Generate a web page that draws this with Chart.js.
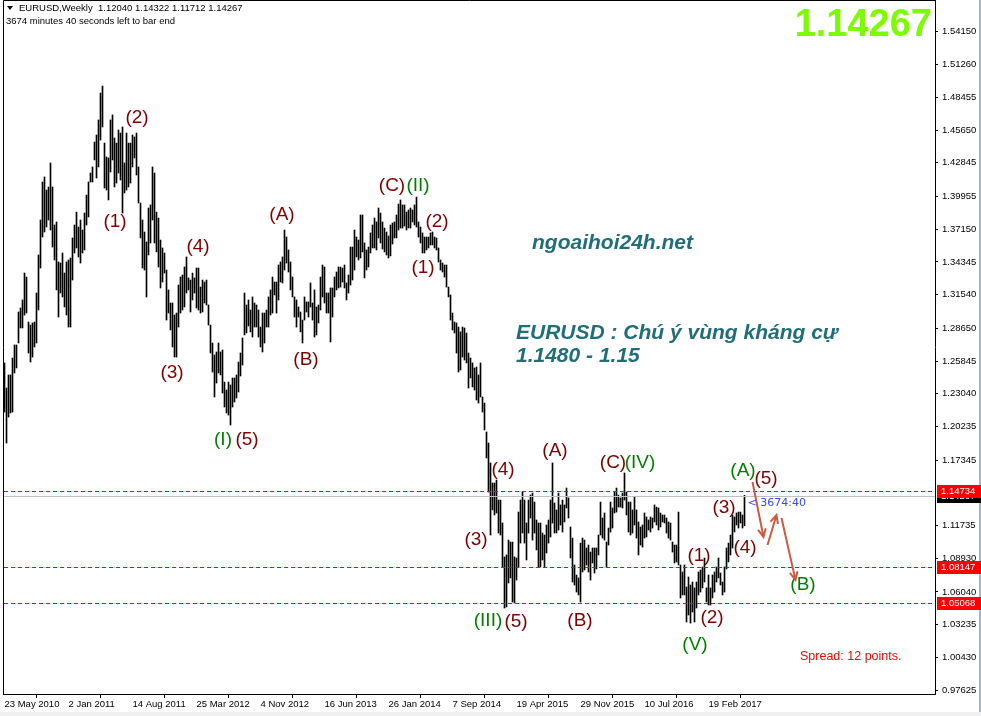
<!DOCTYPE html>
<html>
<head>
<meta charset="utf-8">
<title>EURUSD Weekly</title>
<script src="https://cdn.jsdelivr.net/npm/chart.js@4.4.1/dist/chart.umd.min.js"></script>
<style>
    html, body { margin: 0; padding: 0; background: #fff; overflow: hidden; }
    #wrap { width: 981px; height: 716px; }
</style>
</head>
<body>
<div id="wrap"><canvas id="eurusdChart" width="981" height="716"></canvas></div>
<script>
// weekly bars, first one = week of 23 May 2010
const weekHigh = [
    1.2568, 1.2353, 1.2465, 1.2465, 1.2610, 1.2722, 1.2722, 1.3005, 1.3039, 1.3108,
    1.3339, 1.3305, 1.2919, 1.2893, 1.2911, 1.2919, 1.3168, 1.3494, 1.3794, 1.4120,
    1.4163, 1.4051, 1.4077, 1.4283, 1.4077, 1.3751, 1.3777, 1.3434, 1.3425, 1.3511,
    1.3339, 1.3434, 1.3451, 1.3468, 1.3640, 1.3751, 1.3862, 1.3734, 1.3794, 1.3708,
    1.3854, 1.4008, 1.4120, 1.4197, 1.4249, 1.4463, 1.4523, 1.4652, 1.4883, 1.4943,
    1.4454, 1.4334, 1.4326, 1.4652, 1.4695, 1.4497, 1.4454, 1.4566, 1.4540, 1.4592,
    1.4283, 1.4540, 1.4454, 1.4454, 1.4523, 1.4506, 1.4540, 1.4249, 1.3940, 1.3794,
    1.3691, 1.3605, 1.3897, 1.3923, 1.4249, 1.4197, 1.3862, 1.3811, 1.3622, 1.3554,
    1.3511, 1.3365, 1.3194, 1.3082, 1.3082, 1.2979, 1.2996, 1.3236, 1.3305, 1.3322,
    1.3391, 1.3477, 1.3297, 1.3279, 1.3339, 1.3297, 1.3382, 1.3382, 1.3219, 1.3279,
    1.3262, 1.3279, 1.3065, 1.2893, 1.2739, 1.2636, 1.2662, 1.2739, 1.2662, 1.2679,
    1.2404, 1.2336, 1.2404, 1.2379, 1.2439, 1.2439, 1.2465, 1.2576, 1.2653, 1.2782,
    1.3168, 1.3065, 1.3108, 1.3022, 1.3134, 1.3082, 1.3065, 1.3022, 1.2876, 1.2996,
    1.2996, 1.3022, 1.3134, 1.3194, 1.3305, 1.3262, 1.3262, 1.3408, 1.3434, 1.3477,
    1.3708, 1.3648, 1.3537, 1.3434, 1.3305, 1.3134, 1.3108, 1.3048, 1.3005, 1.2936,
    1.3134, 1.3091, 1.3091, 1.3254, 1.3082, 1.3194, 1.3048, 1.3065, 1.3305, 1.3408,
    1.3391, 1.3168, 1.3168, 1.3211, 1.3211, 1.3305, 1.3348, 1.3391, 1.3391, 1.3382,
    1.3408, 1.3254, 1.3322, 1.3562, 1.3562, 1.3708, 1.3648, 1.3622, 1.3837, 1.3837,
    1.3597, 1.3537, 1.3562, 1.3683, 1.3751, 1.3811, 1.3777, 1.3897, 1.3854, 1.3777,
    1.3725, 1.3691, 1.3657, 1.3751, 1.3768, 1.3777, 1.3837, 1.3931, 1.3966, 1.3923,
    1.3923, 1.3862, 1.3880, 1.3897, 1.3880, 1.3923, 1.3991, 1.3777, 1.3734, 1.3683,
    1.3648, 1.3648, 1.3648, 1.3683, 1.3691, 1.3648, 1.3640, 1.3554, 1.3451, 1.3425,
    1.3408, 1.3408, 1.3219, 1.3151, 1.2996, 1.2919, 1.2911, 1.2876, 1.2834, 1.2876,
    1.2868, 1.2825, 1.2653, 1.2610, 1.2568, 1.2525, 1.2533, 1.2465, 1.2568, 1.2276,
    1.2224, 1.1976, 1.1881, 1.1710, 1.1538, 1.1538, 1.1564, 1.1392, 1.1392, 1.1195,
    1.0904, 1.0921, 1.1049, 1.1032, 1.1032, 1.0904, 1.0895, 1.1289, 1.1392, 1.1461,
    1.1392, 1.1195, 1.1392, 1.1435, 1.1452, 1.1375, 1.1221, 1.1195, 1.1195, 1.1109,
    1.1092, 1.1178, 1.1221, 1.1392, 1.1710, 1.1367, 1.1307, 1.1452, 1.1350, 1.1392,
    1.1350, 1.1495, 1.1410, 1.1161, 1.1066, 1.0835, 1.0749, 1.0724, 1.1023, 1.1066,
    1.1049, 1.0981, 1.1006, 1.0946, 1.0981, 1.0981, 1.0981, 1.1092, 1.1375, 1.1238,
    1.1281, 1.1032, 1.1152, 1.1375, 1.1324, 1.1461, 1.1495, 1.1435, 1.1410, 1.1452,
    1.1624, 1.1461, 1.1375, 1.1375, 1.1307, 1.1418, 1.1307, 1.1204, 1.1161, 1.1178,
    1.1281, 1.1247, 1.1221, 1.1247, 1.1238, 1.1350, 1.1332, 1.1324, 1.1281, 1.1264,
    1.1264, 1.1238, 1.1204, 1.1195, 1.1032, 1.1006, 1.1006, 1.1289, 1.0835, 1.0775,
    1.0835, 1.0646, 1.0732, 1.0663, 1.0689, 1.0638, 1.0689, 1.0775, 1.0792, 1.0818,
    1.0895, 1.0638, 1.0749, 1.0638, 1.0749, 1.0775, 1.0818, 1.0895, 1.0766, 1.0689,
    1.0818, 1.0981, 1.1023, 1.1092, 1.1264, 1.1247, 1.1281, 1.1289, 1.1289, 1.1264, 1.14322
];
const weekLow = [
    1.2147, 1.1881, 1.2104, 1.2139, 1.2147, 1.2482, 1.2525, 1.2739, 1.2868, 1.2868,
    1.2979, 1.2996, 1.2653, 1.2576, 1.2619, 1.2705, 1.2739, 1.3022, 1.3382, 1.3648,
    1.3691, 1.3734, 1.3794, 1.3708, 1.3562, 1.3451, 1.3194, 1.2962, 1.3168, 1.3134,
    1.3048, 1.2979, 1.2876, 1.2876, 1.3279, 1.3511, 1.3554, 1.3477, 1.3425, 1.3511,
    1.3537, 1.3751, 1.3820, 1.4120, 1.4120, 1.4309, 1.4154, 1.4249, 1.4480, 1.4592,
    1.4068, 1.4051, 1.3966, 1.4206, 1.4309, 1.4077, 1.4111, 1.4197, 1.4137, 1.3854,
    1.4026, 1.4051, 1.4077, 1.4111, 1.4249, 1.4326, 1.4180, 1.3940, 1.3640, 1.3382,
    1.3365, 1.3134, 1.3494, 1.3597, 1.3794, 1.3597, 1.3520, 1.3391, 1.3211, 1.3262,
    1.3339, 1.2936, 1.2996, 1.2851, 1.2705, 1.2619, 1.2619, 1.2876, 1.2996, 1.3022,
    1.3048, 1.3168, 1.3194, 1.3005, 1.3108, 1.3168, 1.3039, 1.3022, 1.2996, 1.3005,
    1.3082, 1.3065, 1.2893, 1.2653, 1.2490, 1.2276, 1.2396, 1.2482, 1.2465, 1.2310,
    1.2190, 1.2139, 1.2121, 1.2036, 1.2190, 1.2233, 1.2267, 1.2319, 1.2456, 1.2550,
    1.2808, 1.2825, 1.2885, 1.2834, 1.2790, 1.2876, 1.2876, 1.2790, 1.2705, 1.2662,
    1.2739, 1.2876, 1.2876, 1.2979, 1.2996, 1.3151, 1.2996, 1.3108, 1.3262, 1.3254,
    1.3365, 1.3425, 1.3348, 1.3194, 1.3134, 1.2962, 1.2876, 1.2962, 1.2834, 1.2739,
    1.2936, 1.3005, 1.2962, 1.3048, 1.2936, 1.2790, 1.2808, 1.2911, 1.3022, 1.3134,
    1.3082, 1.2996, 1.2996, 1.2748, 1.2962, 1.3134, 1.3194, 1.3211, 1.3219, 1.3262,
    1.3211, 1.3108, 1.3168, 1.3236, 1.3279, 1.3365, 1.3477, 1.3451, 1.3468, 1.3520,
    1.3297, 1.3365, 1.3391, 1.3511, 1.3554, 1.3554, 1.3537, 1.3640, 1.3597, 1.3545,
    1.3520, 1.3494, 1.3468, 1.3486, 1.3588, 1.3640, 1.3640, 1.3708, 1.3725, 1.3725,
    1.3742, 1.3708, 1.3725, 1.3725, 1.3777, 1.3751, 1.3734, 1.3648, 1.3597, 1.3511,
    1.3511, 1.3537, 1.3554, 1.3580, 1.3580, 1.3554, 1.3537, 1.3434, 1.3365, 1.3348,
    1.3305, 1.3219, 1.3134, 1.2936, 1.2851, 1.2825, 1.2653, 1.2490, 1.2507, 1.2619,
    1.2593, 1.2568, 1.2353, 1.2439, 1.2362, 1.2336, 1.2250, 1.2224, 1.2276, 1.2147,
    1.1993, 1.1753, 1.1461, 1.1092, 1.1307, 1.1264, 1.1281, 1.1109, 1.1092, 1.0818,
    1.0466, 1.0475, 1.0681, 1.0724, 1.0518, 1.0509, 1.0706, 1.0818, 1.1023, 1.1109,
    1.1023, 1.0878, 1.1109, 1.1238, 1.1049, 1.1109, 1.0964, 1.0818, 1.0818, 1.0878,
    1.0818, 1.0938, 1.1023, 1.1075, 1.1195, 1.1109, 1.1109, 1.1135, 1.1178, 1.1118,
    1.1204, 1.1324, 1.1238, 1.0895, 1.0689, 1.0663, 1.0603, 1.0578, 1.0518, 1.0775,
    1.0792, 1.0835, 1.0775, 1.0706, 1.0852, 1.0766, 1.0801, 1.0921, 1.1092, 1.1066,
    1.1049, 1.0818, 1.1006, 1.1118, 1.1152, 1.1281, 1.1289, 1.1332, 1.1332, 1.1324,
    1.1392, 1.1264, 1.1118, 1.1092, 1.1109, 1.1178, 1.1066, 1.0921, 1.1006, 1.0989,
    1.1066, 1.1075, 1.1135, 1.1118, 1.1152, 1.1204, 1.1178, 1.1135, 1.1161, 1.1204,
    1.1195, 1.1109, 1.1066, 1.1049, 1.0946, 1.0852, 1.0861, 1.0835, 1.0552, 1.0578,
    1.0578, 1.0346, 1.0406, 1.0337, 1.0432, 1.0346, 1.0466, 1.0578, 1.0603, 1.0638,
    1.0689, 1.0518, 1.0492, 1.0492, 1.0552, 1.0603, 1.0689, 1.0724, 1.0663, 1.0578,
    1.0603, 1.0801, 1.0861, 1.0921, 1.0981, 1.1118, 1.1178, 1.1152, 1.1195, 1.1152, 1.11712
];

// one date label every 32 weeks
const dateLabels = ['23 May 2010', '2 Jan 2011', '14 Aug 2011', '25 Mar 2012', '4 Nov 2012', '16 Jun 2013',
    '26 Jan 2014', '7 Sep 2014', '19 Apr 2015', '29 Nov 2015', '10 Jul 2016', '19 Feb 2017'];
const priceTicks = [1.54150, 1.51260, 1.48455, 1.45650, 1.42845, 1.39955, 1.37150, 1.34345, 1.31540, 1.28650,
    1.25845, 1.23040, 1.20235, 1.17345, 1.11735, 1.08930, 1.06040, 1.03235, 1.00430, 0.97625];

const bidPrice = 1.14267;
const levelPrices = [1.14734, 1.08147, 1.05068];

// Elliott wave counts: [text, bar index, price, green?]
const waveLabels = [
    ['(2)', 66.25, 1.4669, false], ['(1)', 55.25, 1.3777, false], ['(4)', 96.75, 1.3562, false],
    ['(3)', 83.75, 1.2482, false], ['(I)', 109.25, 1.1907, true], ['(5)', 121.25, 1.1907, false],
    ['(A)', 138.75, 1.3837, false], ['(B)', 150.75, 1.2593, false], ['(C)', 193.75, 1.4086, false],
    ['(II)', 206.75, 1.4086, true], ['(2)', 216.25, 1.3777, false], ['(1)', 209.25, 1.3382, false],
    ['(4)', 249.25, 1.1650, false], ['(3)', 235.75, 1.1049, false], ['(III)', 241.75, 1.0355, true],
    ['(5)', 255.75, 1.0346, false], ['(A)', 275.25, 1.1813, false], ['(B)', 287.75, 1.0355, false],
    ['(C)', 304.25, 1.1710, false], ['(IV)', 317.75, 1.1710, true], ['(1)', 347.25, 1.0912, false],
    ['(2)', 353.75, 1.0380, false], ['(V)', 345.25, 1.0149, true], ['(3)', 359.75, 1.1324, false],
    ['(4)', 370.25, 1.0981, false], ['(A)', 369.25, 1.1640, true], ['(5)', 380.75, 1.1573, false],
    ['(B)', 399.25, 1.0663, true]
];

// projected path arrows
const arrowFromIdx = [374, 381.5, 388.5];
const arrowFromPrice = [1.1547, 1.1006, 1.1238];
const arrowToIdx = [379.5, 386, 395.5];
const arrowToPrice = [1.1075, 1.1264, 1.0706];

const smallFont = '9.5px "Liberation Sans", Arial, sans-serif';

function drawArrow(c, x1, y1, x2, y2) {
    const ang = Math.atan2(y2 - y1, x2 - x1);
    c.beginPath();
    c.moveTo(x1, y1);
    c.lineTo(x2, y2);
    c.moveTo(x2 - 9 * Math.cos(ang - 0.45), y2 - 9 * Math.sin(ang - 0.45));
    c.lineTo(x2, y2);
    c.lineTo(x2 - 9 * Math.cos(ang + 0.45), y2 - 9 * Math.sin(ang + 0.45));
    c.stroke();
}

const terminalLook = {
    id: 'terminalLook',
    beforeDraw(chart) {
        const c = chart.ctx;
        c.save();
        c.fillStyle = '#fff';
        c.fillRect(0, 0, chart.width, chart.height);
        c.fillStyle = '#f0f0f0';
        c.fillRect(0, 712, chart.width, 4);
        c.fillStyle = '#9fb8d8';
        c.fillRect(979, 0, 2, 712);
        c.restore();
    },
    afterDraw(chart) {
        const c = chart.ctx, a = chart.chartArea, x = chart.scales.x, y = chart.scales.y;
        c.save();

        // bid line
        c.fillStyle = '#c0c0c0';
        c.fillRect(a.left + 1, Math.round(y.getPixelForValue(bidPrice)), a.right - a.left - 1, 1);

        // dashed red levels, dash 4 / gap 3
        c.fillStyle = '#ff0000';
        levelPrices.forEach(p => {
            const ly = Math.round(y.getPixelForValue(p));
            for (let dx = a.left + 1; dx < a.right; dx += 7) {
                c.fillRect(dx, ly, Math.min(4, a.right - dx), 1);
            }
        });

        // frame
        c.strokeStyle = '#000';
        c.lineWidth = 1;
        c.beginPath();
        c.moveTo(a.left + 0.5, a.bottom);
        c.lineTo(a.left + 0.5, 0.5);
        c.lineTo(a.right, 0.5);
        c.stroke();

        // price boxes on the axis
        c.font = smallFont;
        c.textBaseline = 'middle';
        c.textAlign = 'left';
        const boxes = [[bidPrice, '#000']].concat(levelPrices.map(p => [p, '#ff0000']));
        boxes.forEach(([p, col]) => {
            const by = Math.round(y.getPixelForValue(p));
            c.fillStyle = col;
            c.fillRect(a.right + 2, by - 6, 44, 13);
            c.fillStyle = '#fff';
            c.fillText(p.toFixed(5), a.right + 6, by + 0.5);
        });

        // header
        c.fillStyle = '#000';
        c.beginPath();
        c.moveTo(7, 6); c.lineTo(13, 6); c.lineTo(10, 10); c.closePath(); c.fill();
        c.fillText('EURUSD,Weekly  1.12040 1.14322 1.11712 1.14267', 19, 8.5);
        c.fillText('3674 minutes 40 seconds left to bar end', 6, 21.5);

        // big bid
        c.font = 'bold 38px "Liberation Sans", Arial, sans-serif';
        c.fillStyle = '#7cfc00';
        c.textAlign = 'right';
        c.fillText(bidPrice.toFixed(5), 932, 26);

        // comments
        c.textAlign = 'left';
        c.fillStyle = '#1f6e78';
        c.font = 'italic bold 21px "Liberation Sans", Arial, sans-serif';
        c.fillText('ngoaihoi24h.net', 532, 243);
        c.fillText('EURUSD : Chú ý vùng kháng cự', 516, 333);
        c.fillText('1.1480 - 1.15', 516, 356);

        // wave labels
        c.textAlign = 'center';
        c.font = '19px "Liberation Sans", Arial, sans-serif';
        waveLabels.forEach(([t, i, p, green]) => {
            c.fillStyle = green ? '#008000' : '#800000';
            c.fillText(t, x.getPixelForValue(i), y.getPixelForValue(p));
        });

        // arrows
        c.strokeStyle = '#cf5a44';
        c.lineWidth = 2;
        arrowFromIdx.forEach((fi, k) => {
            drawArrow(c, x.getPixelForValue(fi), y.getPixelForValue(arrowFromPrice[k]),
                x.getPixelForValue(arrowToIdx[k]), y.getPixelForValue(arrowToPrice[k]));
        });

        // bar timer
        c.textAlign = 'left';
        c.fillStyle = '#3348ff';
        c.font = '11px "DejaVu Sans", sans-serif';
        c.fillText('< 3674:40', x.getPixelForValue(weekHigh.length - 1) + 3, y.getPixelForValue(bidPrice) + 7);

        c.fillStyle = '#ff0000';
        c.font = '12.5px "Liberation Sans", Arial, sans-serif';
        c.fillText('Spread: 12 points.', 800, 657);
        c.restore();
    }
};

const bars = weekHigh.map((h, i) => ({ x: i, y: [weekLow[i], h] }));
const ctx = document.getElementById('eurusdChart').getContext('2d');

const chart = new Chart(ctx, {
    type: 'bar',
    data: {
        datasets: [{
            label: 'EURUSD,Weekly',
            data: bars,
            backgroundColor: '#000',
            borderWidth: 0,
            barThickness: 1,
            grouped: false
        }]
    },
    options: {
        responsive: false,
        animation: false,
        events: [],
        layout: { padding: { left: 3, top: 0, right: 0, bottom: 0 } },
        plugins: {
            legend: { display: false },
            tooltip: { enabled: false }
        },
        scales: {
            x: {
                type: 'linear',
                min: -0.75,
                max: 465.25,
                offset: false,
                border: { display: true, color: '#000' },
                grid: { drawOnChartArea: false, drawTicks: true, tickLength: 4, color: '#000' },
                afterBuildTicks: s => { s.ticks = dateLabels.map((d, k) => ({ value: k * 32 })); },
                ticks: {
                    autoSkip: false,
                    maxRotation: 0,
                    align: 'start',
                    padding: 1,
                    color: '#000',
                    font: { family: '"Liberation Sans", Arial, sans-serif', size: 9.5 },
                    callback: (v, i) => dateLabels[i]
                },
                afterFit: s => { s.height = 22; s.paddingLeft = 0; s.paddingRight = 0; }
            },
            y: {
                position: 'right',
                min: 0.97285,
                max: 1.56809,
                border: { display: true, color: '#000' },
                grid: { drawOnChartArea: false, drawTicks: true, tickLength: 3, color: '#000' },
                afterBuildTicks: s => { s.ticks = priceTicks.map(v => ({ value: v })); },
                ticks: {
                    autoSkip: false,
                    padding: 4,
                    color: '#000',
                    font: { family: '"Liberation Sans", Arial, sans-serif', size: 9.5 },
                    callback: v => v.toFixed(5)
                },
                afterFit: s => { s.width = 46; s.paddingTop = 0; s.paddingBottom = 0; }
            }
        }
    },
    plugins: [terminalLook]
});
</script>
</body>
</html>
